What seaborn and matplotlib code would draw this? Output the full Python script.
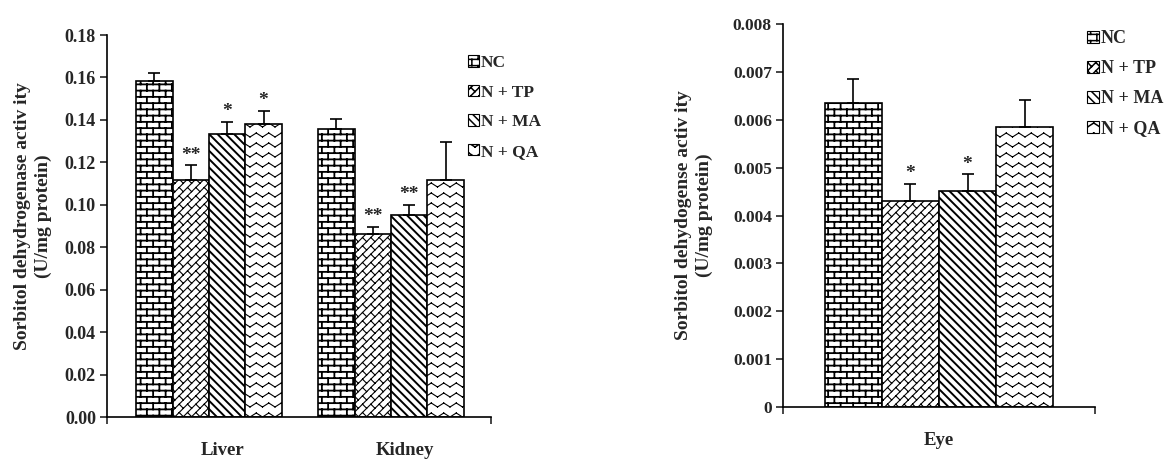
import warnings
warnings.filterwarnings("ignore")
import numpy as np
import pandas as pd
import matplotlib
matplotlib.use("Agg")
import matplotlib.pyplot as plt
import matplotlib.hatch as mhatch
import matplotlib.transforms as mtrans
from matplotlib.path import Path
from matplotlib.patches import Patch
import seaborn as sns

# ---------------- data ----------------
groups = ["NC", "N + TP", "N + MA", "N + QA"]
organs_a = ["Liver", "Kidney"]
liver_mean = [0.1585, 0.1117, 0.1334, 0.1381]
liver_sd = [0.0037, 0.0070, 0.0056, 0.0061]
liver_sig = ["", "**", "*", "*"]
kidney_mean = [0.1356, 0.0861, 0.0953, 0.1117]
kidney_sd = [0.0048, 0.0036, 0.0047, 0.0178]
kidney_sig = ["", "**", "**", ""]
organs_b = ["Eye"]
eye_mean = [0.00634, 0.00430, 0.00451, 0.00585]
eye_sd = [0.00052, 0.00036, 0.00035, 0.00056]
eye_sig = ["", "*", "*", ""]
yticks_a = [0.00, 0.02, 0.04, 0.06, 0.08, 0.10, 0.12, 0.14, 0.16, 0.18]
yticks_b = [0, 0.001, 0.002, 0.003, 0.004, 0.005, 0.006, 0.007, 0.008]
ylabel_a = "Sorbitol dehydrogenase activ ity\n(U/mg protein)"
ylabel_b = "Sorbitol dehydogense activ ity\n(U/mg protein)"

BS = chr(92)


# ---------------- custom Excel-like fill patterns (open segments only) ----------------
class _SegHatch(mhatch.HatchPatternBase):
    char = None

    def __init__(self, hatch, density):
        self.segs = self.build() if (hatch and self.char in hatch) else []
        self.num_vertices = 2 * len(self.segs)

    def set_vertices_and_codes(self, vertices, codes):
        if self.segs:
            vertices[:] = np.asarray(self.segs, float).reshape(-1, 2)
            codes[0::2] = Path.MOVETO
            codes[1::2] = Path.LINETO


class BrickHatch(_SegHatch):
    char = "B"

    def build(self):
        R, C = 16, 8
        segs = []
        for r in range(-1, R + 1):
            y = (r + 0.5) / R
            segs.append([(-0.1, y), (1.1, y)])
            off = 0.5 * (r % 2) + 0.25
            for c in range(-1, C + 1):
                x = (c + off) / C
                segs.append([(x, y), (x, y + 1.0 / R)])
        return segs


class DiagBrickHatch(_SegHatch):
    char = "D"

    def build(self):
        N, M = 12, 6
        segs = []
        for k in range(-N - 1, N + 1):
            v = k / N
            segs.append([(-0.2, -0.2 + v), (1.2, 1.2 + v)])
            v2 = (k + 1) / N
            for j in range(-2, 2 * M + 3):
                u = (j + 0.5 * (k % 2)) / M
                segs.append([((u - v) / 2, (u + v) / 2), ((u - v2) / 2, (u + v2) / 2)])
        return segs


class WaveHatch(_SegHatch):
    char = "W"

    def build(self):
        R, P, a = 10, 8, 0.02
        segs = []
        for r in range(-1, R + 1):
            y0 = (r + 0.5) / R
            pts = [(i / (2 * P), y0 + (a if i % 2 else -a)) for i in range(-1, 2 * P + 2)]
            for p, q in zip(pts[:-1], pts[1:]):
                segs.append([p, q])
        return segs


mhatch._hatch_types.extend([BrickHatch, DiagBrickHatch, WaveHatch])
hatches = ["B", "D", BS * 4, "W"]
hatch_lw = [1.3, 0.8, 1.4, 0.8]

# ---------------- style ----------------
sns.set_theme(style="white")
plt.rcParams["font.family"] = ["Liberation Serif", "DejaVu Serif"]
plt.rcParams["font.weight"] = "bold"
plt.rcParams["axes.labelweight"] = "bold"
plt.rcParams["hatch.linewidth"] = 1.1
plt.rcParams["hatch.color"] = "black"

fig = plt.figure(figsize=(11.65, 4.59), dpi=100)
W, H = 1165.0, 459.0


def px_axes(l, r, t, b):
    return fig.add_axes([l / W, 1 - b / H, (r - l) / W, (b - t) / H])


ax_a = px_axes(107, 491, 35, 417)
ax_b = px_axes(783, 1095, 24, 407)

df_a = pd.DataFrame({
    "organ": [o for o in organs_a for _ in groups],
    "group": groups * len(organs_a),
    "value": liver_mean + kidney_mean,
})
sd_a = {"Liver": liver_sd, "Kidney": kidney_sd}
sig_a = {"Liver": liver_sig, "Kidney": kidney_sig}
df_b = pd.DataFrame({"organ": ["Eye"] * 4, "group": groups, "value": eye_mean})
sd_b = {"Eye": eye_sd}
sig_b = {"Eye": eye_sig}


def style_hatch(p, i, lw=None):
    p.set_hatch(hatches[i])
    if hasattr(p, "set_hatch_linewidth"):
        p.set_hatch_linewidth(hatch_lw[i] if lw is None else lw)


def draw(ax, df, organs, sds, sigs, ylim, yticks, fmt, xlim, ylabel, lab_x, lab_y,
         tick_fs, xshift):
    sns.barplot(data=df, x="organ", y="value", hue="group", order=organs,
                hue_order=groups, palette=["white"] * 4, edgecolor="black",
                linewidth=1.2, width=0.8, gap=0, errorbar=None, legend=False,
                saturation=1, ax=ax)
    bar_conts = list(ax.containers)
    for i, cont in enumerate(bar_conts):
        xs, hs, es = [], [], []
        for j, bar in enumerate(cont):
            style_hatch(bar, i)
            bar.set_edgecolor("black")
            xs.append(bar.get_x() + bar.get_width() / 2)
            hs.append(bar.get_height())
            es.append(sds[organs[j]][i])
        ax.errorbar(xs, hs, yerr=[np.zeros(len(es)), es], fmt="none",
                    ecolor="black", elinewidth=1.2, capsize=4, capthick=1.2, zorder=3)
        for j in range(len(xs)):
            s = sigs[organs[j]][i]
            if s:
                ax.text(xs[j], hs[j] + es[j] + (ylim[1] * 0.004), s, ha="center",
                        va="bottom", fontsize=14, fontweight="bold")
    ax.set_ylim(*ylim)
    ax.set_xlim(*xlim)
    ax.set_yticks(yticks)
    ax.set_yticklabels([fmt(v) for v in yticks], fontsize=tick_fs, fontweight="bold")
    plt.setp(ax.get_xticklabels(), fontsize=13.5, fontweight="bold")
    ax.tick_params(axis="x", which="major", length=0, pad=18)
    ax.set_xticks(list(xlim), minor=True)
    ax.tick_params(axis="x", which="minor", length=5, width=1.2, direction="out", bottom=True)
    ax.tick_params(axis="y", length=5, width=1.2, direction="out", left=True, pad=3)
    for s in ["top", "right"]:
        ax.spines[s].set_visible(False)
    for s in ["left", "bottom"]:
        ax.spines[s].set_color("black")
        ax.spines[s].set_linewidth(1.2)
    ax.set_xlabel("")
    ax.set_ylabel(ylabel, fontsize=14, fontweight="bold", linespacing=1.3)
    ax.yaxis.set_label_coords(lab_x, lab_y)
    if xshift:
        off = mtrans.ScaledTranslation(xshift / 100.0, 0, fig.dpi_scale_trans)
        for lab in ax.get_xticklabels():
            lab.set_transform(lab.get_transform() + off)


draw(ax_a, df_a, organs_a, sd_a, sig_a, (0, 0.18), yticks_a, lambda v: f"{v:.2f}",
     (-0.56, 1.55), ylabel_a, -0.142, 0.525, 13, 14)
draw(ax_b, df_b, organs_b, sd_b, sig_b, (0, 0.008), yticks_b,
     lambda v: "0" if v == 0 else f"{v:.3f}", (-0.547, 0.547), ylabel_b, -0.225, 0.5,
     12.5, 0)

for (x, y, fs, ls) in [(468, 55, 12.5, 0.78), (1087, 30, 13, 0.72)]:
    handles = []
    for i, h in enumerate(hatches):
        hp = Patch(facecolor="white", edgecolor="black", linewidth=0.8)
        style_hatch(hp, i, lw=0.6)
        handles.append(hp)
    fig.legend(handles, groups, loc="upper left", bbox_to_anchor=(x / W, 1 - y / H),
               frameon=False, borderpad=0, borderaxespad=0, handlelength=0.65,
               handleheight=0.65, handletextpad=0.1, labelspacing=ls,
               prop={"family": "Liberation Serif", "weight": "bold", "size": fs})

fig.savefig("out.png", dpi=100, facecolor="white")
